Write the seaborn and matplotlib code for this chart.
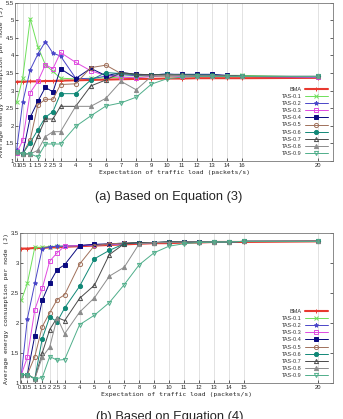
import matplotlib
matplotlib.use("Agg")
import matplotlib.pyplot as plt
from matplotlib.ticker import FuncFormatter
import seaborn as sns

# traffic load (packets/s)
x_load = [0.1, 0.5, 1, 1.5, 2, 2.5, 3, 4, 5, 6, 7, 8, 9, 10, 11, 12, 13, 14, 15, 20]
xtick_labels_a = ["0.1", "0.5", "1", "1.5", "2", "2.5", "3", "4", "5", "6", "7", "8",
                  "9", "10", "11", "12", "13", "14", "16", "20"]
xtick_labels_b = ["0.1", "0.5", "1", "1.5", "2", "2.5", "3", "4", "5", "6", "7", "8",
                  "9", "10", "11", "12", "13", "14", "15", "20"]

series_names = ["BMA", "TAS-0.1", "TAS-0.2", "TAS-0.3", "TAS-0.4",
                "TAS-0.5", "TAS-0.6", "TAS-0.7", "TAS-0.8", "TAS-0.9"]

# (a) Equation (3)
bma_a = [3.25, 3.25, 3.26, 3.26, 3.27, 3.27, 3.28, 3.29, 3.30, 3.31, 3.32, 3.33, 3.33, 3.34, 3.34, 3.35, 3.35, 3.35, 3.35, 3.36]
tas1_a = [2.66, 3.35, 5.04, 4.25, 3.73, 3.54, 3.35, 3.33, 3.35, 3.36, 3.38, 3.38, 3.40, 3.40, 3.40, 3.42, 3.42, 3.43, 3.43, 3.38]
tas2_a = [1.30, 2.66, 3.59, 4.03, 4.39, 4.06, 3.98, 3.35, 3.33, 3.41, 3.45, 3.42, 3.44, 3.47, 3.44, 3.42, 3.42, 3.41, 3.40, 3.38]
tas3_a = [1.22, 1.58, 2.94, 3.26, 3.73, 3.62, 4.08, 3.80, 3.56, 3.42, 3.38, 3.36, 3.40, 3.42, 3.40, 3.40, 3.40, 3.40, 3.40, 3.38]
tas4_a = [1.24, 1.20, 2.24, 2.69, 3.09, 2.96, 3.62, 3.34, 3.63, 3.42, 3.51, 3.46, 3.45, 3.46, 3.46, 3.46, 3.46, 3.43, 3.40, 3.40]
tas5_a = [1.24, 1.20, 1.60, 2.59, 2.75, 2.75, 3.17, 3.19, 3.65, 3.72, 3.48, 3.44, 3.44, 3.44, 3.43, 3.43, 3.42, 3.42, 3.40, 3.40]
tas6_a = [1.24, 1.20, 1.52, 1.88, 2.24, 2.40, 2.91, 2.91, 3.30, 3.51, 3.48, 3.45, 3.45, 3.46, 3.45, 3.44, 3.44, 3.42, 3.40, 3.40]
tas7_a = [1.24, 1.20, 1.20, 1.70, 2.19, 2.19, 2.55, 2.55, 3.13, 3.30, 3.51, 3.46, 3.45, 3.45, 3.44, 3.43, 3.43, 3.42, 3.40, 3.40]
tas8_a = [1.24, 1.20, 1.20, 1.30, 1.69, 1.83, 1.83, 2.55, 2.55, 2.78, 3.26, 3.02, 3.40, 3.44, 3.43, 3.42, 3.42, 3.41, 3.40, 3.40]
tas9_a = [1.24, 1.20, 1.20, 1.11, 1.48, 1.48, 1.48, 1.98, 2.28, 2.56, 2.65, 2.81, 3.18, 3.33, 3.38, 3.40, 3.40, 3.40, 3.40, 3.40]

# (b) Equation (4)
bma_b = [3.24, 3.24, 3.25, 3.25, 3.26, 3.26, 3.27, 3.28, 3.29, 3.30, 3.31, 3.32, 3.33, 3.33, 3.34, 3.34, 3.35, 3.35, 3.35, 3.36]
tas1_b = [2.38, 2.66, 3.26, 3.26, 3.27, 3.28, 3.28, 3.29, 3.30, 3.31, 3.32, 3.33, 3.34, 3.34, 3.35, 3.35, 3.35, 3.35, 3.36, 3.36]
tas2_b = [1.14, 2.07, 2.66, 3.24, 3.27, 3.28, 3.28, 3.29, 3.30, 3.31, 3.32, 3.33, 3.34, 3.34, 3.35, 3.35, 3.35, 3.35, 3.36, 3.36]
tas3_b = [1.14, 1.43, 2.22, 2.58, 3.03, 3.17, 3.28, 3.29, 3.30, 3.31, 3.32, 3.33, 3.34, 3.34, 3.35, 3.35, 3.35, 3.35, 3.36, 3.36]
tas4_b = [1.14, 1.14, 1.79, 2.38, 2.67, 2.89, 2.97, 3.29, 3.31, 3.32, 3.33, 3.34, 3.34, 3.35, 3.35, 3.35, 3.35, 3.35, 3.36, 3.36]
tas5_b = [1.14, 1.14, 1.44, 1.94, 2.17, 2.39, 2.47, 2.98, 3.29, 3.32, 3.33, 3.34, 3.34, 3.35, 3.35, 3.35, 3.35, 3.35, 3.36, 3.36]
tas6_b = [1.14, 1.14, 1.07, 1.74, 2.10, 2.02, 2.25, 2.61, 3.07, 3.21, 3.32, 3.34, 3.34, 3.35, 3.35, 3.35, 3.35, 3.35, 3.36, 3.36]
tas7_b = [1.14, 1.14, 1.07, 1.50, 1.89, 2.09, 2.04, 2.41, 2.63, 3.14, 3.32, 3.34, 3.34, 3.35, 3.35, 3.35, 3.35, 3.35, 3.36, 3.36]
tas8_b = [1.14, 1.14, 1.07, 1.43, 1.60, 2.09, 1.82, 2.18, 2.42, 2.78, 2.93, 3.32, 3.34, 3.34, 3.35, 3.35, 3.35, 3.35, 3.36, 3.36]
tas9_b = [1.14, 1.14, 1.07, 1.09, 1.44, 1.38, 1.39, 1.97, 2.13, 2.34, 2.64, 2.97, 3.17, 3.28, 3.32, 3.34, 3.35, 3.35, 3.36, 3.36]

# gnuplot-like styles
colors = ["#e8392f", "#6ee05a", "#4a46c8", "#e04ae0", "#0a0a80",
          "#a0705a", "#118877", "#4a4a4a", "#8c8c8c", "#4fae8a"]
markers = ["+", "x", "*", "s", "s", "o", "o", "^", "^", "v"]
filled = [True, True, True, False, True, False, True, False, True, False]

sns.set_theme(style="white")
plt.rcParams["font.family"] = ["Liberation Sans", "DejaVu Sans"]

fig = plt.figure(figsize=(3.43, 4.19), dpi=100)
ax_a = fig.add_axes([0.044, 0.616, 0.927, 0.378])
ax_b = fig.add_axes([0.058, 0.086, 0.913, 0.358])


def draw(ax, data, xlabels, ymax):
    for name, vals, c, m, f in zip(series_names, data, colors, markers, filled):
        lw = 1.5 if name == "BMA" else 0.7
        kw = dict(markerfacecolor=c if f else "none", markeredgecolor=c,
                  markeredgewidth=0.7, markersize=3.0)
        sns.lineplot(x=x_load, y=vals, ax=ax, color=c, marker=m, linewidth=lw,
                     label=name, **kw)
    ax.set_xlim(0, 21)
    ax.set_ylim(1, ymax)
    ax.set_xticks(x_load)
    ax.set_xticklabels(xlabels, fontsize=4.2)
    yt = [1 + 0.5 * i for i in range(int((ymax - 1) / 0.5) + 1)]
    ax.set_yticks(yt)
    ax.yaxis.set_major_formatter(FuncFormatter(lambda v, p: "%g" % v))
    ax.tick_params(axis="y", labelsize=4.2, direction="in", length=2,
                   right=True, left=True, pad=1, width=0.5)
    ax.tick_params(axis="x", direction="in", length=2, pad=1.5, width=0.5, bottom=True)
    ax.grid(axis="x", color="#dddddd", linewidth=0.6)
    for s in ax.spines.values():
        s.set_color("#777777")
        s.set_linewidth(0.6)
    ax.set_xlabel("Expectation of traffic load (packets/s)", family="DejaVu Sans Mono",
                  fontsize=4.6, labelpad=1.5)
    ax.set_ylabel("Average energy consumption per node (J)", family="DejaVu Sans Mono",
                  fontsize=4.6, labelpad=1)
    leg = ax.legend(loc="lower right", frameon=False, markerfirst=False, fontsize=4,
                    handlelength=4.2, handletextpad=0.6, labelspacing=0.38,
                    borderaxespad=0.5)
    for t in leg.get_texts():
        t.set_color("#333333")


draw(ax_a, [bma_a, tas1_a, tas2_a, tas3_a, tas4_a, tas5_a, tas6_a, tas7_a, tas8_a, tas9_a],
     xtick_labels_a, 5.5)
draw(ax_b, [bma_b, tas1_b, tas2_b, tas3_b, tas4_b, tas5_b, tas6_b, tas7_b, tas8_b, tas9_b],
     xtick_labels_b, 3.5)

fig.text(0.493, 0.529, "(a) Based on Equation (3)", ha="center", va="center", fontsize=9.3)
fig.text(0.496, 0.005, "(b) Based on Equation (4)", ha="center", va="center", fontsize=9.3)

fig.savefig("out.png", dpi=100)
